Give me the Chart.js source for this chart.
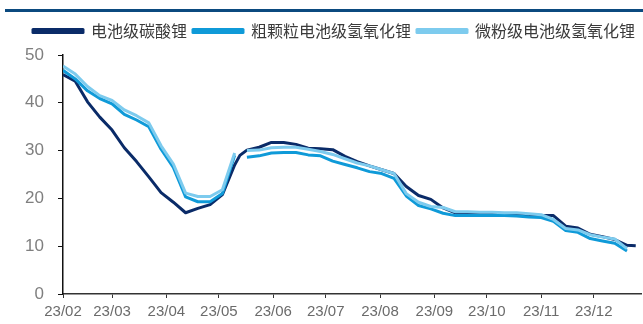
<!DOCTYPE html>
<html>
<head>
<meta charset="utf-8">
<script src="https://cdn.jsdelivr.net/npm/chart.js@4.4.0/dist/chart.umd.min.js"></script>
<style>
  body { margin: 0; background: #fff; }
  .wrap { position: relative; width: 643px; height: 324px; }
  .topbar { position: absolute; left: 5px; top: 9px; width: 638px; height: 3px; background: #0b4a7f; }
  canvas { position: absolute; left: 0; top: 0; }
</style>
</head>
<body>
<div class="wrap">
  <div class="topbar"></div>
  <canvas id="my-chart" width="643" height="324"></canvas>
</div>
<script>
// days counted from 2023-02-01
const days = [0, 7, 14, 21, 28, 35, 42, 49, 56, 63, 70, 77, 84, 91, 98, 101,
  105, 112, 119, 126, 133, 140, 147, 154, 161, 168, 175, 182, 189, 196, 203, 210,
  217, 224, 231, 238, 245, 252, 259, 266, 273, 280, 287, 294, 301, 308, 315, 322, 327];

const carbonate = [45.9, 44.5, 40.2, 37.0, 34.3, 30.6, 27.7, 24.5, 21.2, 19.2, 17.0, 17.9, 18.7, 20.8, 27.0, 29.0,
  30.1, 30.7, 31.7, 31.7, 31.3, 30.5, 30.4, 30.2, 28.8, 27.7, 26.8, 26.0, 25.2, 22.5, 20.6, 19.8,
  18.0, 17.0, 17.0, 17.0, 17.0, 16.8, 16.7, 16.6, 16.4, 16.4, 14.2, 13.8, 12.5, 12.0, 11.4, 10.2, 10.1];

const coarseHydroxide = [46.8, 45.0, 42.5, 40.9, 39.8, 37.6, 36.4, 35.0, 30.3, 26.5, 20.3, 19.3, 19.3, 21.0, 29.0, null,
  28.6, 28.9, 29.5, 29.6, 29.6, 29.1, 28.9, 27.8, 27.1, 26.4, 25.6, 25.2, 24.2, 20.5, 18.5, 17.8,
  16.9, 16.4, 16.4, 16.4, 16.4, 16.4, 16.3, 16.1, 16.0, 15.2, 13.3, 12.9, 11.6, 11.1, 10.6, 9.0, null];

const microHydroxide = [47.7, 46.0, 43.4, 41.5, 40.5, 38.5, 37.3, 35.8, 31.0, 27.2, 21.1, 20.4, 20.4, 21.8, 29.5, null,
  30.0, 30.1, 30.6, 30.7, 30.7, 30.3, 29.8, 29.2, 28.3, 27.4, 26.8, 26.0, 25.2, 21.0, 19.2, 18.3,
  18.1, 17.2, 17.2, 17.1, 17.1, 17.0, 17.0, 16.8, 16.6, 15.6, 13.7, 13.4, 12.4, 11.9, 11.5, 9.5, null];

const monthDays = [0, 28, 59, 89, 120, 150, 181, 212, 242, 273, 303];
const monthLabels = ["23/02", "23/03", "23/04", "23/05", "23/06", "23/07", "23/08", "23/09", "23/10", "23/11", "23/12"];

const seriesNames = ["电池级碳酸锂", "粗颗粒电池级氢氧化锂", "微粉级电池级氢氧化锂"];
const seriesColors = ["#0a2b68", "#0f9ad8", "#7dcbee"];

const toPoints = (vals) => vals.map((v, i) => ({ x: days[i], y: v }));

const makeSet = (idx, vals, order) => ({
  label: seriesNames[idx],
  data: toPoints(vals),
  borderColor: seriesColors[idx],
  backgroundColor: seriesColors[idx],
  borderWidth: 3,
  pointRadius: 0,
  tension: 0,
  spanGaps: false,
  borderJoinStyle: "round",
  order: order,
});

// extra room under the legend so the plot starts lower
const legendGap = {
  id: "legendGap",
  beforeLayout: (chart) => {
    const lg = chart.legend;
    if (lg && !lg._gapPatched) {
      const origFit = lg.fit;
      lg.fit = function () {
        origFit.call(this);
        this.height += 6;
      };
      lg._gapPatched = true;
    }
  },
};

const tickFont = { family: "'Liberation Sans', Arial, sans-serif", size: 15 };

const ctx = document.getElementById("my-chart").getContext("2d");
const chart = new Chart(ctx, {
  type: "line",
  data: {
    datasets: [
      makeSet(0, carbonate, 3),
      makeSet(1, coarseHydroxide, 2),
      makeSet(2, microHydroxide, 1),
    ],
  },
  plugins: [legendGap],
  options: {
    responsive: false,
    animation: false,
    layout: { padding: { top: 17, right: 2, left: 0, bottom: 0 } },
    plugins: {
      tooltip: { enabled: false },
      legend: {
        align: "end",
        labels: {
          boxWidth: 50,
          boxHeight: 3,
          padding: 6,
          color: "#3a3a3a",
          font: { family: "'Noto Sans CJK SC', sans-serif", size: 16 },
          sort: (a, b) => a.datasetIndex - b.datasetIndex,
        },
      },
    },
    scales: {
      x: {
        type: "linear",
        min: 0,
        max: 330,
        afterBuildTicks: (axis) => {
          axis.ticks = monthDays.map((d) => ({ value: d }));
        },
        afterFit: (axis) => {
          axis.height = 30;
        },
        ticks: {
          autoSkip: false,
          maxRotation: 0,
          padding: 5,
          color: "#6b6b6b",
          font: tickFont,
          callback: (value) => monthLabels[monthDays.indexOf(value)],
        },
        grid: { drawOnChartArea: false, drawTicks: true, tickLength: 4, color: "#333" },
        border: { display: true, color: "#333", width: 1.5 },
      },
      y: {
        min: 0,
        max: 50,
        afterFit: (axis) => {
          axis.width = 63;
        },
        ticks: {
          stepSize: 10,
          padding: 14,
          color: "#7f7f7f",
          font: { family: "'Liberation Sans', Arial, sans-serif", size: 17 },
        },
        grid: { drawOnChartArea: false, drawTicks: true, tickLength: 5, color: "#111" },
        border: { display: true, color: "#111", width: 1.5 },
      },
    },
  },
});
</script>
</body>
</html>
